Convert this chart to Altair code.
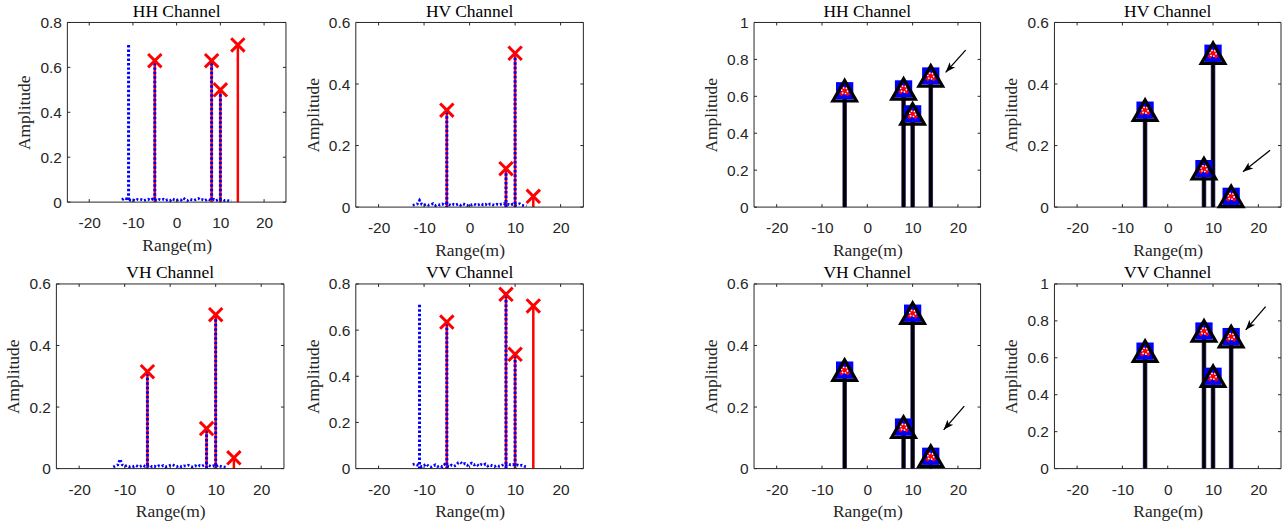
import math
import altair as alt
import pandas as pd

# ---------------- data ----------------
X_DOMAIN = [-25, 25]
X_TICKS = [-20, -10, 0, 10, 20]
TRUE_POS = [-5, 8, 10, 14]

NOISE_X = [-12.5, -12.0, -11.5, -11.0, -10.5, -10.0, -9.5, -9.0, -8.5, -8.0,
           -7.5, -7.0, -6.5, -6.0, -5.5, -5.0, -4.5, -4.0, -3.5, -3.0,
           -2.5, -2.0, -1.5, -1.0, -0.5, 0.0, 0.5, 1.0, 1.5, 2.0,
           2.5, 3.0, 3.5, 4.0, 4.5, 5.0, 5.5, 6.0, 6.5, 7.0,
           7.5, 8.0, 8.5, 9.0, 9.5, 10.0, 10.5, 11.0, 11.5, 12.0,
           12.5]

# left column (reconstruction) panels
HH_L_EST = [0.63, 0.63, 0.50, 0.70]
HH_L_SPIKE_X = [-11, -5, 8, 10]
HH_L_SPIKE_Y = [0.70, 0.62, 0.62, 0.50]
HH_L_NOISE = [0.010, 0.018, 0.015, 0.012, 0.008, 0.010, 0.006, 0.012, 0.009, 0.011,
              0.007, 0.010, 0.013, 0.008, 0.014, 0.010, 0.006, 0.012, 0.009, 0.013,
              0.008, 0.011, 0.007, 0.015, 0.010, 0.008, 0.012, 0.009, 0.018, 0.011,
              0.007, 0.013, 0.010, 0.008, 0.012, 0.016, 0.009, 0.011, 0.007, 0.013,
              0.010, 0.008, 0.012, 0.006, 0.011, 0.009, 0.012, 0.007, 0.009, 0.005,
              0.004]

HV_L_EST = [0.315, 0.125, 0.50, 0.035]
HV_L_SPIKE_X = [-5, 8, 10]
HV_L_SPIKE_Y = [0.31, 0.125, 0.50]
HV_L_NOISE = [0.006, 0.008, 0.010, 0.022, 0.009, 0.007, 0.010, 0.006, 0.008, 0.011,
              0.005, 0.009, 0.007, 0.010, 0.006, 0.012, 0.008, 0.005, 0.009, 0.007,
              0.010, 0.006, 0.011, 0.008, 0.005, 0.009, 0.007, 0.010, 0.006, 0.008,
              0.011, 0.007, 0.009, 0.005, 0.010, 0.008, 0.006, 0.009, 0.007, 0.010,
              0.012, 0.008, 0.009, 0.006, 0.010, 0.007, 0.009, 0.011, 0.006, 0.005,
              0.004]

VH_L_EST = [0.315, 0.13, 0.50, 0.035]
VH_L_SPIKE_X = [-5, 8, 10]
VH_L_SPIKE_Y = [0.31, 0.125, 0.50]
VH_L_NOISE = [0.005, 0.009, 0.012, 0.030, 0.012, 0.008, 0.010, 0.006, 0.009, 0.007,
              0.010, 0.006, 0.008, 0.011, 0.007, 0.009, 0.012, 0.006, 0.008, 0.005,
              0.009, 0.007, 0.010, 0.006, 0.008, 0.011, 0.013, 0.009, 0.007, 0.010,
              0.006, 0.009, 0.008, 0.011, 0.007, 0.005, 0.009, 0.006, 0.010, 0.008,
              0.012, 0.016, 0.010, 0.007, 0.009, 0.006, 0.011, 0.008, 0.006, 0.005,
              0.004]

VV_L_EST = [0.635, 0.755, 0.495, 0.705]
VV_L_SPIKE_X = [-11, -5, 8, 10]
VV_L_SPIKE_Y = [0.71, 0.63, 0.75, 0.49]
VV_L_NOISE = [0.018, 0.020, 0.016, 0.012, 0.008, 0.014, 0.020, 0.010, 0.006, 0.012,
              0.016, 0.009, 0.013, 0.008, 0.018, 0.011, 0.007, 0.015, 0.010, 0.014,
              0.025, 0.028, 0.018, 0.022, 0.014, 0.019, 0.024, 0.016, 0.020, 0.012,
              0.018, 0.014, 0.020, 0.011, 0.016, 0.012, 0.009, 0.014, 0.010, 0.012,
              0.018, 0.015, 0.020, 0.016, 0.018, 0.014, 0.016, 0.012, 0.015, 0.010,
              0.008]

# right column (estimated targets) panels
HH_R = [0.63, 0.64, 0.505, 0.71]
HV_R = [0.315, 0.125, 0.50, 0.035]
VH_R = [0.32, 0.135, 0.505, 0.04]
VV_R = [0.636, 0.745, 0.50, 0.715]

# arrows: tail x, tail y, tip x, tip y
HH_ARROW = [21.7, 0.85, 17.3, 0.73]
HV_ARROW = [22.6, 0.185, 16.6, 0.115]
VH_ARROW = [21.4, 0.203, 16.85, 0.126]
VV_ARROW = [21.6, 0.877, 17.2, 0.751]

# ---------------- styling ----------------
AX = "#262626"
SANS = "Liberation Sans"
SERIF = "Liberation Serif"
TL = 3  # inward tick length
XSHAPE = "M-1,-1L1,1M-1,1L1,-1"
HEAD = "M0,0L-0.9,2.4L0,1.8L0.9,2.4Z"


class Frame:
    """pixel frame of one panel: group width W, height H, plot extends xoff px left of origin"""

    def __init__(self, W, H, ymax, xoff=0):
        self.W, self.H, self.ymax, self.xoff = W, H, ymax, xoff
        if ymax == 0.8:
            self.yt = [0, 0.2, 0.4, 0.6, 0.8]
        elif ymax == 0.6:
            self.yt = [0, 0.2, 0.4, 0.6]
        else:
            self.yt = [0, 0.2, 0.4, 0.6, 0.8, 1.0]

    def x(self, field="x"):
        return alt.X(f"{field}:Q",
                     scale=alt.Scale(domain=X_DOMAIN, nice=False, zero=False,
                                     range=[-self.xoff, self.W]),
                     axis=alt.Axis(values=X_TICKS, title="Range(m)",
                                   labelExpr="datum.value + ''"))

    def y(self, field="y"):
        return alt.Y(f"{field}:Q",
                     scale=alt.Scale(domain=[0, self.ymax], nice=False, zero=True),
                     axis=alt.Axis(values=self.yt, title="Amplitude", format=".1~f",
                                   offset=self.xoff))


def frame_layers(f):
    W, H, L = f.W, f.H, -f.xoff
    tx = pd.DataFrame({"x": X_TICKS})
    ty = pd.DataFrame({"y": f.yt})
    one = pd.DataFrame({"k": [0]})
    rule = dict(color=AX, strokeWidth=1)
    return [
        # box
        alt.Chart(one).mark_rule(**rule).encode(x=alt.value(L), x2=alt.value(W), y=alt.value(0)),
        alt.Chart(one).mark_rule(**rule).encode(x=alt.value(L), x2=alt.value(W), y=alt.value(H)),
        alt.Chart(one).mark_rule(**rule).encode(x=alt.value(L), y=alt.value(0), y2=alt.value(H)),
        alt.Chart(one).mark_rule(**rule).encode(x=alt.value(W), y=alt.value(0), y2=alt.value(H)),
        # inward ticks on all four sides
        alt.Chart(tx).mark_rule(**rule).encode(x=f.x(), y=alt.value(H), y2=alt.value(H - TL)),
        alt.Chart(tx).mark_rule(**rule).encode(x=f.x(), y=alt.value(0), y2=alt.value(TL)),
        alt.Chart(ty).mark_rule(**rule).encode(y=f.y(), x=alt.value(L), x2=alt.value(L + TL)),
        alt.Chart(ty).mark_rule(**rule).encode(y=f.y(), x=alt.value(W), x2=alt.value(W - TL)),
    ]


def spacer(f, dummy):
    # invisible white tick that only widens the panel's layout bounds to the left
    return alt.Chart(pd.DataFrame({"k": [0]})).mark_rule(color="white", strokeWidth=1).encode(
        x=alt.value(-dummy), x2=alt.value(-dummy), y=alt.value(f.H / 2), y2=alt.value(f.H / 2 + 1))


def title(t, f):
    return alt.TitleParams(t, font=SERIF, fontSize=17.5, fontWeight="normal",
                           color="black", offset=-5, frame="group", dx=-f.xoff / 2)


def left_panel(name, f, est, sx, sy, noise, dummy=None):
    est_df = pd.DataFrame({"x": TRUE_POS, "y": est})
    spike_df = pd.DataFrame({"x": sx, "y": sy})
    noise_df = pd.DataFrame({"x": NOISE_X, "y": noise})
    layers = []
    if dummy is not None:
        layers.append(spacer(f, dummy))
    layers += [
        alt.Chart(est_df).mark_rule(color="#ff0000", strokeWidth=2.5).encode(
            x=f.x(), y=f.y(), y2=alt.datum(0)),
        alt.Chart(noise_df).mark_line(color="#0000ff", strokeWidth=2.8,
                                      strokeDash=[2, 2]).encode(x=f.x(), y=f.y()),
        alt.Chart(spike_df).mark_rule(color="#0000ff", strokeWidth=3,
                                      strokeDash=[2.5, 2]).encode(
            x=f.x(), y=f.y(), y2=alt.datum(0)),
    ]
    layers += frame_layers(f)
    layers += [
        alt.Chart(est_df).mark_point(shape=XSHAPE, filled=False, stroke="#ff0000",
                                     strokeWidth=3, size=180, opacity=1).encode(
            x=f.x(), y=f.y()),
    ]
    return alt.layer(*layers).properties(width=f.W, height=f.H, title=title(name, f))


def right_panel(name, f, vals, arrow, dummy=None):
    df = pd.DataFrame({"x": TRUE_POS, "y": vals})
    tx, ty, hx, hy = arrow
    arr = pd.DataFrame({"x": [tx], "y": [ty], "xe": [hx], "ye": [hy]})
    head = pd.DataFrame({"x": [hx], "y": [hy]})
    dxp = (hx - tx) * (f.W + f.xoff) / (X_DOMAIN[1] - X_DOMAIN[0])
    dyp = -(hy - ty) * f.H / f.ymax
    ang = math.degrees(math.atan2(dxp, -dyp)) % 360
    layers = []
    if dummy is not None:
        layers.append(spacer(f, dummy))
    layers += frame_layers(f)
    layers += [
        alt.Chart(df).mark_rule(color="#4a3a8a", strokeWidth=4.6).encode(
            x=f.x(), y=f.y(), y2=alt.datum(0)),
        alt.Chart(df).mark_rule(color="#000000", strokeWidth=3.3).encode(
            x=f.x(), y=f.y(), y2=alt.datum(0)),
        alt.Chart(df).mark_point(shape="square", filled=True, color="#0000ff",
                                 size=300, opacity=1).encode(x=f.x(), y=f.y()),
        alt.Chart(df).mark_point(shape=XSHAPE, filled=False, stroke="#ff0000",
                                 strokeWidth=3.5, size=70, opacity=1).encode(
            x=f.x(), y=f.y()),
        alt.Chart(df).mark_point(shape="circle", filled=False, stroke="white",
                                 strokeWidth=1.5, strokeDash=[1.5, 1.5], size=36,
                                 opacity=1).encode(x=f.x(), y=f.y()),
        alt.Chart(df).mark_point(shape="triangle-up", filled=False, stroke="black",
                                 strokeWidth=3.2, size=560, opacity=1).encode(
            x=f.x(), y=f.y()),
        alt.Chart(arr).mark_rule(color="black", strokeWidth=1.3).encode(
            x=f.x(), y=f.y(), x2=alt.X2("xe:Q"), y2=alt.Y2("ye:Q")),
        alt.Chart(head).mark_point(shape=HEAD, filled=True, color="black", size=72,
                                   opacity=1, angle=ang).encode(x=f.x(), y=f.y()),
    ]
    return alt.layer(*layers).properties(width=f.W, height=f.H, title=title(name, f))


p1 = left_panel("HH Channel", Frame(219, 180, 0.8), HH_L_EST, HH_L_SPIKE_X, HH_L_SPIKE_Y, HH_L_NOISE)
p2 = left_panel("HV Channel", Frame(228, 185, 0.6), HV_L_EST, HV_L_SPIKE_X, HV_L_SPIKE_Y, HV_L_NOISE)
p3 = right_panel("HH Channel", Frame(227, 185, 1.0), HH_R, HH_ARROW, dummy=162)
p4 = right_panel("HV Channel", Frame(227, 185, 0.6), HV_R, HV_ARROW, dummy=65)
p5 = left_panel("VH Channel", Frame(217, 185, 0.6, xoff=11), VH_L_EST, VH_L_SPIKE_X, VH_L_SPIKE_Y, VH_L_NOISE)
p6 = left_panel("VV Channel", Frame(228, 185, 0.8), VV_L_EST, VV_L_SPIKE_X, VV_L_SPIKE_Y, VV_L_NOISE)
p7 = right_panel("VH Channel", Frame(227, 185, 0.6), VH_R, VH_ARROW, dummy=162)
p8 = right_panel("VV Channel", Frame(227, 185, 1.0), VV_R, VV_ARROW, dummy=65)

chart = alt.concat(p1, p2, p3, p4, p5, p6, p7, p8, columns=4,
                   spacing={"row": 5, "column": 7}).properties(
    padding={"left": 3.5, "top": 2, "right": 2, "bottom": 2},
    background="white",
).configure_view(
    stroke="transparent"
).configure_axis(
    domain=False, ticks=False, tickSize=0, grid=False,
    labelFont=SANS, labelFontSize=15.5, labelColor=AX,
    titleFont=SERIF, titleFontSize=17.5, titleFontWeight="normal", titleColor=AX,
    labelOverlap=False, labelFlush=False,
).configure_axisX(
    labelPadding=13.5, titlePadding=5
).configure_axisY(
    labelPadding=6, titlePadding=6
)

chart.save("out.html", embed_options={"renderer": "svg", "actions": False})
